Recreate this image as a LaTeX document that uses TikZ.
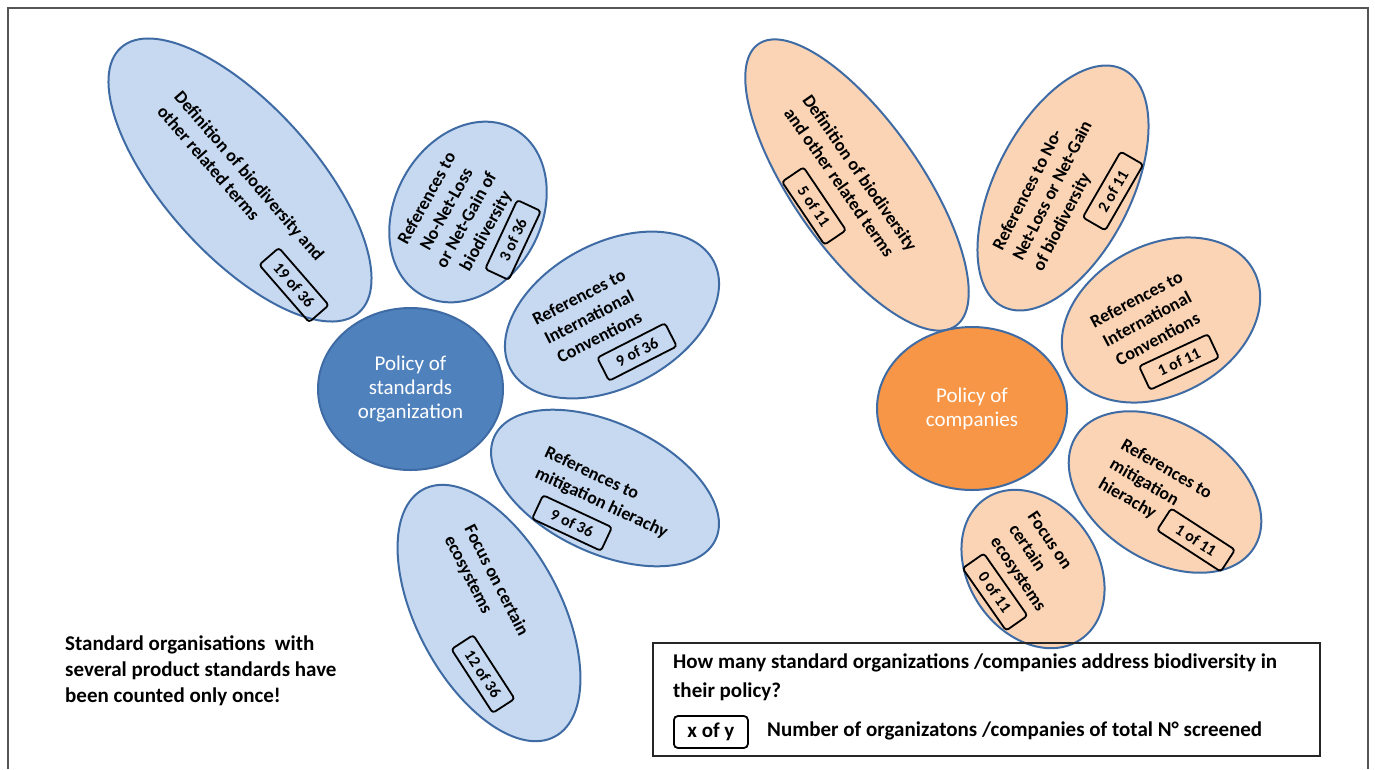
\documentclass[tikz,border=0pt]{standalone}
\usepackage{fontspec}
\setmainfont{Carlito}
\usetikzlibrary{shapes.geometric}
\definecolor{petalblue}{HTML}{C6D9F0}
\definecolor{edgeblue}{HTML}{3F6BA5}
\definecolor{coreblue}{HTML}{4F81BD}
\definecolor{petalpeach}{HTML}{FAD4B4}
\definecolor{coreorange}{HTML}{F79646}
\definecolor{framegray}{HTML}{555555}
\begin{document}
\begin{tikzpicture}[x=1pt,y=-1pt,
 petal/.style={ellipse, draw=edgeblue, line width=2pt, inner sep=0pt, outer sep=0pt},
 bluepetal/.style={petal, fill=petalblue},
 peachpetal/.style={petal, fill=petalpeach},
 core/.style={ellipse, draw=edgeblue, line width=2pt, inner sep=0pt, text=white, align=center, font=\fontsize{21}{24}\selectfont},
 ptext/.style={inner sep=0pt, font=\fontsize{18}{22.5}\selectfont\bfseries},
 countbox/.style={draw=black, line width=1.8pt, rounded corners=3pt, inner sep=0pt, minimum width=76pt, minimum height=26pt, font=\fontsize{16}{18}\selectfont\bfseries},
 legtext/.style={inner sep=0pt, font=\fontsize{21}{26}\selectfont\bfseries, anchor=west, align=left}
]
\useasboundingbox (0,0) rectangle (1375,769);
\draw[framegray, line width=1.2pt] (8,769) -- (8,8) -- (1368,8) -- (1368,769);

% ---------- left flower ----------
\node[bluepetal, minimum width=356pt, minimum height=150pt, rotate=-48] (l1) at (240,180) {};
\node[bluepetal, minimum width=190pt, minimum height=146pt, rotate=61] (l2) at (468,212) {};
\node[bluepetal, minimum width=230pt, minimum height=144pt, rotate=28] (l3) at (612,315) {};
\node[bluepetal, minimum width=244pt, minimum height=130pt, rotate=-25] (l4) at (605,488) {};
\node[bluepetal, minimum width=280pt, minimum height=144pt, rotate=-62] (l5) at (489,613) {};
\node[core, fill=coreblue, minimum width=185pt, minimum height=162pt] (lc) at (410.5,389) {Policy of\\standards\\organization};

\node[ptext, align=left, rotate=-49] (l1t) at (241,183) {Definition of biodiversity and\\other related terms};
\node[ptext, align=center, rotate=61] (l2t) at (457,215) {References to\\No-Net-Loss\\or Net-Gain of\\biodiversity};
\node[ptext, align=center, rotate=27] (l3t) at (589,317) {References to\\International\\Conventions};
\node[ptext, align=left, rotate=-25] (l4t) at (606,493) {References to\\mitigation hierachy};
\node[ptext, align=left, rotate=-63] (l5t) at (486,586) {Focus on certain\\ecosystems};

\node[countbox, rotate=-49] (l1c) at (294,285) {19 of 36};
\node[countbox, rotate=65] (l2c) at (513,240) {3 of 36};
\node[countbox, rotate=27] (l3c) at (637,352) {9 of 36};
\node[countbox, rotate=-25] (l4c) at (572,523) {9 of 36};
\node[countbox, rotate=-57] (l5c) at (483,674) {12 of 36};

% ---------- right flower ----------
\node[peachpetal, minimum width=344pt, minimum height=128pt, rotate=-55] (r1) at (857,185) {};
\node[peachpetal, minimum width=266pt, minimum height=136pt, rotate=63] (r2) at (1063,188) {};
\node[peachpetal, minimum width=210pt, minimum height=150pt, rotate=28] (r3) at (1161,320) {};
\node[peachpetal, minimum width=210pt, minimum height=138pt, rotate=-32] (r4) at (1165,492) {};
\node[peachpetal, minimum width=170pt, minimum height=129pt, rotate=-56] (r5) at (1033,569) {};
\node[core, fill=coreorange, minimum width=190pt, minimum height=163pt] (rc) at (972,408.5) {Policy of\\companies};

\node[ptext, align=left, rotate=-55] (r1t) at (851,179) {Definition of biodiversity\\and other related terms};
\node[ptext, align=left, rotate=63] (r2t) at (1053,191) {References to No-\\Net-Loss or Net-Gain\\of biodiversity};
\node[ptext, align=center, rotate=28] (r3t) at (1147,319) {References to\\International\\Conventions};
\node[ptext, align=left, rotate=-30] (r4t) at (1155,489) {References to\\mitigation\\hierachy};
\node[ptext, align=left, rotate=-56] (r5t) at (1036,562) {Focus on\\certain\\ecosystems};

\node[countbox, rotate=-56] (r1c) at (814,206) {5 of 11};
\node[countbox, rotate=60] (r2c) at (1113,191) {2 of 11};
\node[countbox, rotate=25] (r3c) at (1179,362) {1 of 11};
\node[countbox, rotate=-33] (r4c) at (1196,540) {1 of 11};
\node[countbox, rotate=-55] (r5c) at (995,592) {0 of 11};

% ---------- notes and legend ----------
\node[legtext, anchor=north west] (note) at (65,636) {Standard organisations~~with\\several product standards have\\been counted only once!};

\node[draw=black!85, line width=1.8pt, minimum width=667pt, minimum height=113pt, inner sep=0pt, anchor=north west] (legend) at (652,642) {};
\node[legtext] (leg1) at (673,663) {How many standard organizations /companies address biodiversity in};
\node[legtext] (leg2) at (673,692) {their policy?};
\node[draw=black, line width=1.8pt, rounded corners=4pt, minimum width=74pt, minimum height=32pt, inner sep=0pt, anchor=west, font=\fontsize{21}{24}\selectfont\bfseries] (legbox) at (673,732) {x of y};
\node[legtext] (leg3) at (767,731) {Number of organizatons /companies of total N° screened};
\end{tikzpicture}
\end{document}
